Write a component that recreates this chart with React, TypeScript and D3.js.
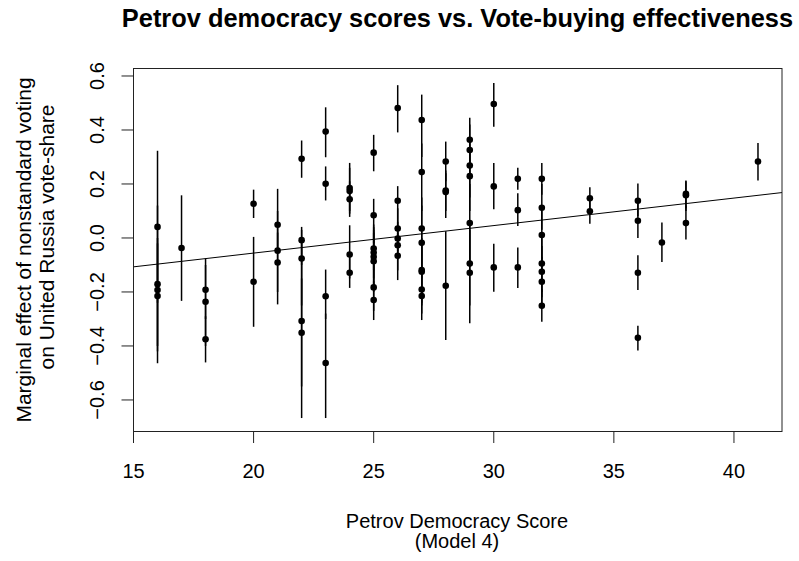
import React from "react";
import * as d3 from "d3";

const score = [
  16, 16, 16, 16, 17, 18, 18, 18, 20, 20, 21, 21, 21,
  22, 22, 22, 22, 22, 23, 23, 23, 23,
  24, 24, 24, 24, 24,
  25, 25, 25, 25, 25, 25, 25, 25,
  26, 26, 26, 26, 26, 26,
  27, 27, 27, 27, 27, 27, 27, 27,
  28, 28, 28, 28,
  29, 29, 29, 29, 29, 29, 29,
  30, 30, 30, 31, 31, 31,
  32, 32, 32, 32, 32, 32, 32,
  34, 34, 36, 36, 36, 36, 37, 38, 38, 38, 41,
];
const effect = [
  0.041, -0.171, -0.193, -0.215, -0.037, -0.192, -0.236, -0.375, 0.127, -0.162, 0.049, -0.047, -0.091,
  0.293, -0.008, -0.076, -0.308, -0.351, 0.394, 0.201, -0.216, -0.463,
  0.185, 0.174, 0.143, -0.061, -0.129,
  0.316, 0.084, -0.039, -0.055, -0.07, -0.086, -0.183, -0.23,
  0.481, 0.138, 0.035, -0.002, -0.027, -0.066,
  0.437, 0.244, 0.035, -0.018, -0.119, -0.125, -0.191, -0.215,
  0.283, 0.176, 0.17, -0.177,
  0.364, 0.326, 0.268, 0.229, 0.055, -0.095, -0.129,
  0.496, 0.191, -0.109, 0.219, 0.103, -0.109,
  0.219, 0.112, 0.011, -0.095, -0.125, -0.162, -0.251,
  0.147, 0.099, 0.138, 0.064, -0.129, -0.37, -0.017, 0.164, 0.158, 0.055, 0.283,
];
const lower = [
  -0.24, -0.464, -0.4, -0.42, -0.233, -0.3, -0.4, -0.461, 0.074, -0.329, -0.05, -0.246, -0.2,
  0.223, -0.1, -0.25, -0.667, -0.55, 0.299, 0.139, -0.3, -0.667,
  0.1, 0.09, 0.078, -0.15, -0.185,
  0.247, -0.02, -0.12, -0.15, -0.18, -0.2, -0.27, -0.304,
  0.391, 0.07, -0.05, -0.08, -0.12, -0.156,
  0.3, 0.1, -0.1, -0.15, -0.25, -0.24, -0.28, -0.304,
  0.21, 0.1, 0.074, -0.378,
  0.28, 0.22, 0.15, 0.1, -0.1, -0.25, -0.316,
  0.412, 0.106, -0.199, 0.179, 0.044, -0.185,
  0.16, 0.03, -0.08, -0.2, -0.22, -0.26, -0.31,
  0.1, 0.053, 0.08, 0.0, -0.193, -0.417, -0.089, 0.11, 0.1, -0.006, 0.213,
];
const upper = [
  0.323, 0.12, 0.0, -0.02, 0.158, -0.076, -0.1, -0.29, 0.179, 0.004, 0.182, 0.1, 0.02,
  0.361, 0.041, 0.03, 0.0, -0.15, 0.484, 0.265, -0.117, -0.28,
  0.278, 0.26, 0.21, 0.047, -0.07,
  0.382, 0.145, 0.05, 0.03, 0.04, 0.02, -0.1, -0.16,
  0.566, 0.192, 0.11, 0.07, 0.06, 0.02,
  0.531, 0.35, 0.15, 0.12, 0.0, -0.01, -0.1, -0.12,
  0.357, 0.25, 0.24, 0.025,
  0.445, 0.42, 0.37, 0.33, 0.2, 0.06, 0.03,
  0.574, 0.278, -0.021, 0.26, 0.166, -0.035,
  0.278, 0.2, 0.1, 0.0, -0.03, -0.07, -0.19,
  0.188, 0.15, 0.202, 0.13, -0.064, -0.325, 0.057, 0.213, 0.21, 0.12, 0.352,
];

const fitIntercept = -0.2598;
const fitSlope = 0.01019;

const xTicks = [15, 20, 25, 30, 35, 40];
const yTicks = [-0.6, -0.4, -0.2, 0.0, 0.2, 0.4, 0.6];

const title = "Petrov democracy scores vs. Vote-buying effectiveness";
const xTitle1 = "Petrov Democracy Score";
const xTitle2 = "(Model 4)";
const yTitle1 = "Marginal effect of nonstandard voting";
const yTitle2 = "on United Russia vote-share";

const W = 799;
const H = 561;
const left = 133.5;
const right = 782;
const top = 68;
const bottom = 431;

export default function App() {
  const x = d3.scaleLinear().domain([15, 42]).range([left, right]);
  const y = d3.scaleLinear().domain([-0.715, 0.6296]).range([bottom, top]);
  const font = "'Liberation Sans', Arial, sans-serif";
  const [x0, x1] = x.domain();
  const tickLen = 12;

  return (
    <svg
      width={W}
      height={H}
      style={{ position: "absolute", left: 0, top: 0, background: "#fff" }}
      fontFamily={font}
    >
      <rect x={0} y={0} width={W} height={H} fill="#fff" />
      <text x={457.5} y={27.3} textAnchor="middle" fontWeight="bold" fontSize={25.4}>
        {title}
      </text>

      {/* error bars */}
      {score.map((s, i) => (
        <line
          key={"e" + i}
          x1={x(s)}
          x2={x(s)}
          y1={y(lower[i])}
          y2={y(upper[i])}
          stroke="#000"
          strokeWidth={1.5}
        />
      ))}
      {/* regression line */}
      <line
        x1={x(x0)}
        x2={x(x1)}
        y1={y(fitIntercept + fitSlope * x0)}
        y2={y(fitIntercept + fitSlope * x1)}
        stroke="#000"
        strokeWidth={1}
      />
      {/* points */}
      {score.map((s, i) => (
        <circle key={"p" + i} cx={x(s)} cy={y(effect[i])} r={3.3} fill="#000" />
      ))}

      {/* box */}
      <rect
        x={left}
        y={top + 0.5}
        width={right - left}
        height={bottom - top}
        fill="none"
        stroke="#222"
        strokeWidth={1}
      />

      {/* x axis */}
      <line x1={x(15)} x2={x(40)} y1={bottom + 0.5} y2={bottom + 0.5} stroke="#222" />
      {xTicks.map((t) => (
        <g key={"xt" + t}>
          <line x1={x(t)} x2={x(t)} y1={bottom} y2={bottom + tickLen} stroke="#222" />
          <text x={x(t)} y={478} textAnchor="middle" fontSize={20}>
            {String(t)}
          </text>
        </g>
      ))}

      {/* y axis */}
      <line x1={left} x2={left} y1={y(-0.6)} y2={y(0.6)} stroke="#222" />
      {yTicks.map((t) => (
        <g key={"yt" + t}>
          <line x1={left - tickLen} x2={left} y1={y(t)} y2={y(t)} stroke="#222" />
          <text
            transform={`translate(${104},${y(t)}) rotate(-90)`}
            textAnchor="middle"
            fontSize={20}
          >
            {d3.format(".1f")(t)}
          </text>
        </g>
      ))}

      <text x={457} y={528.3} textAnchor="middle" fontSize={20}>
        {xTitle1}
      </text>
      <text x={457} y={548} textAnchor="middle" fontSize={20}>
        {xTitle2}
      </text>

      <text
        transform={`translate(${31},${250}) rotate(-90)`}
        textAnchor="middle"
        fontSize={21}
      >
        {yTitle1}
      </text>
      <text
        transform={`translate(${53.5},${237}) rotate(-90)`}
        textAnchor="middle"
        fontSize={21}
      >
        {yTitle2}
      </text>
    </svg>
  );
}
